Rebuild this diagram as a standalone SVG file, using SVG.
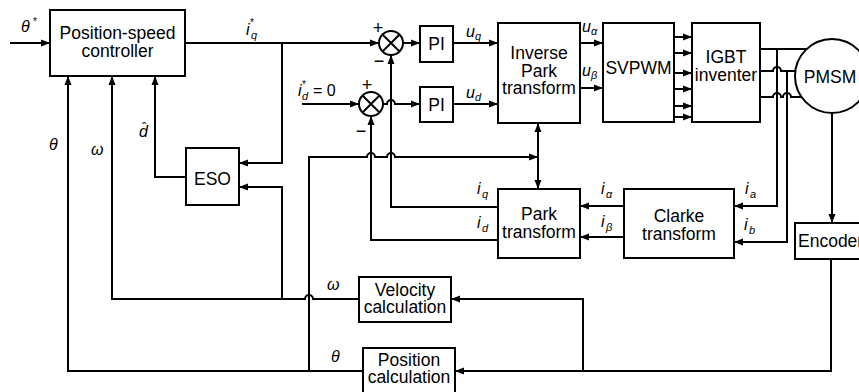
<svg xmlns="http://www.w3.org/2000/svg" width="859" height="392" viewBox="0 0 859 392">
<style>
.box{fill:#fff;stroke:#000;stroke-width:2}
.bt{font-family:"Liberation Sans",Arial,sans-serif;font-size:17.5px;text-anchor:middle;fill:#000}
.lab{font-family:"Liberation Sans",Arial,sans-serif;font-size:16px;font-style:italic;fill:#000}
.sub{font-family:"Liberation Sans",Arial,sans-serif;font-size:11px;font-style:italic;fill:#000}
.sup{font-family:"Liberation Sans",Arial,sans-serif;font-size:10px;fill:#000}
.sg{font-family:"Liberation Sans",Arial,sans-serif;font-size:18px;text-anchor:middle;fill:#000}
.ln{fill:none;stroke:#000;stroke-width:2}
.ar{fill:none;stroke:#000;stroke-width:2;marker-end:url(#ah)}
</style>
<defs>
<marker id="ah" markerUnits="userSpaceOnUse" markerWidth="9" markerHeight="8" refX="9" refY="4" orient="auto">
<path d="M0,0.5 L9,4 L0,7.5 z" fill="#000"/>
</marker>
<marker id="as" markerUnits="userSpaceOnUse" markerWidth="9" markerHeight="8" refX="0" refY="4" orient="auto">
<path d="M9,0.5 L0,4 L9,7.5 z" fill="#000"/>
</marker>
</defs>

<g id="connectors">
<path class="ar" d="M10,43 H50"/>
<path class="ar" d="M185,43 H379"/>
<path class="ar" d="M282,43 V163 H239"/>
<path class="ar" d="M186,177 H155 V76"/>
<path class="ar" d="M363,371 H68 V76"/>
<path class="ar" d="M309,371 V157 H367 A4,4 0 0 1 375,157 H387 A4,4 0 0 1 395,157 H538"/>
<path class="ar" d="M359,299 H313 A4,4 0 0 0 305,299 H112 V76"/>
<path class="ar" d="M282,299 V187 H239"/>
<path class="ar" d="M831,259 V371 H455"/>
<path class="ar" d="M583,371 V299 H451"/>
<path class="ar" d="M832,113 V223"/>
<path class="ar" d="M403,43 H420"/>
<path class="ar" d="M302,104 H359"/>
<path class="ar" d="M383,104 H387 A4,4 0 0 1 395,104 H420"/>
<path class="ar" d="M453,43 H498"/>
<path class="ar" d="M453,104 H498"/>
<path class="ar" d="M580,43 H603"/>
<path class="ar" d="M580,88 H603"/>
<path class="ar" d="M674,37 H692"/>
<path class="ar" d="M674,53 H692"/>
<path class="ar" d="M674,73 H692"/>
<path class="ar" d="M674,89 H692"/>
<path class="ar" d="M674,106 H692"/>
<path class="ar" d="M674,117 H692"/>
<path class="ln" d="M760,49 H807"/>
<path class="ln" d="M760,71 H773 A4,4 0 0 1 781,71 H795"/>
<path class="ln" d="M760,97 H773 A4,4 0 0 1 781,97 H783 A4,4 0 0 1 791,97 H802"/>
<path class="ar" d="M777,49 V206 H734"/>
<path class="ar" d="M787,71 V242 H734"/>
<path class="ar" d="M624,206 H580"/>
<path class="ar" d="M624,237 H580"/>
<path class="ar" d="M498,207 H391 V55"/>
<path class="ar" d="M498,240 H371 V116"/>
<path class="ln" d="M538,123 V189" marker-start="url(#as)" marker-end="url(#ah)"/>
</g>

<g id="controller">
<rect class="box" x="50" y="10" width="135" height="66"/>
<text class="bt" x="117.5" y="39">Position-speed</text>
<text class="bt" x="117.5" y="57">controller</text>
</g>
<g id="eso">
<rect class="box" x="186" y="148" width="53" height="57"/>
<text class="bt" x="212.5" y="185">ESO</text>
</g>
<g id="sum-q">
<circle cx="391" cy="43" r="12" fill="#fff" stroke="#000" stroke-width="2"/>
<path class="ln" d="M382.5,34.5 L399.5,51.5 M399.5,34.5 L382.5,51.5"/>
<text class="sg" x="378" y="34">+</text>
<text class="sg" x="379" y="67">−</text>
</g>
<g id="sum-d">
<circle cx="371" cy="104" r="12" fill="#fff" stroke="#000" stroke-width="2"/>
<path class="ln" d="M362.5,95.5 L379.5,112.5 M379.5,95.5 L362.5,112.5"/>
<text class="sg" x="367" y="91">+</text>
<text class="sg" x="361" y="137">−</text>
</g>
<g id="pi-q">
<rect class="box" x="420" y="26" width="33" height="36"/>
<text class="bt" x="436.5" y="50">PI</text>
</g>
<g id="pi-d">
<rect class="box" x="420" y="87" width="33" height="35"/>
<text class="bt" x="436.5" y="111">PI</text>
</g>
<g id="inv-park">
<rect class="box" x="498" y="23" width="82" height="100"/>
<text class="bt" x="539" y="59">Inverse</text>
<text class="bt" x="539" y="77">Park</text>
<text class="bt" x="539" y="94">transform</text>
</g>
<g id="svpwm">
<rect class="box" x="603" y="23" width="71" height="99"/>
<text class="bt" x="638.5" y="74">SVPWM</text>
</g>
<g id="igbt">
<rect class="box" x="692" y="23" width="68" height="99"/>
<text class="bt" x="726" y="63">IGBT</text>
<text class="bt" x="726" y="81">inventer</text>
</g>
<g id="pmsm">
<circle cx="832" cy="76" r="37" fill="#fff" stroke="#000" stroke-width="2"/>
<text class="bt" x="830" y="83">PMSM</text>
</g>
<g id="park">
<rect class="box" x="498" y="189" width="82" height="69"/>
<text class="bt" x="539" y="220">Park</text>
<text class="bt" x="539" y="238">transform</text>
</g>
<g id="clarke">
<rect class="box" x="624" y="189" width="110" height="69"/>
<text class="bt" x="679" y="222">Clarke</text>
<text class="bt" x="679" y="240">transform</text>
</g>
<g id="encoder">
<rect class="box" x="795" y="223" width="80" height="36"/>
<text class="bt" x="798" y="247" style="text-anchor:start">Encoder</text>
</g>
<g id="velocity">
<rect class="box" x="359" y="277" width="92" height="45"/>
<text class="bt" x="405" y="296">Velocity</text>
<text class="bt" x="405" y="313">calculation</text>
</g>
<g id="position">
<rect class="box" x="363" y="348" width="92" height="46"/>
<text class="bt" x="409" y="366">Position</text>
<text class="bt" x="409" y="383">calculation</text>
</g>

<g id="labels">
<text class="lab" x="21" y="32">θ</text><text class="sup" x="33" y="25">*</text>
<text class="lab" x="246" y="35">i</text><text class="sub" x="251" y="39">q</text><text class="sup" x="250" y="26">*</text>
<text class="lab" x="298" y="96">i</text><text class="sub" x="302" y="100">d</text><text class="sup" x="302" y="88">*</text>
<text class="lab" x="313" y="96" style="font-style:normal">= 0</text>
<text class="lab" x="466" y="37">u</text><text class="sub" x="475" y="40">q</text>
<text class="lab" x="466" y="98">u</text><text class="sub" x="475" y="101">d</text>
<text class="lab" x="582" y="32">u</text><text class="sub" x="591" y="35">α</text>
<text class="lab" x="582" y="76">u</text><text class="sub" x="591" y="79">β</text>
<text class="lab" x="477" y="194">i</text><text class="sub" x="482" y="198">q</text>
<text class="lab" x="477" y="228">i</text><text class="sub" x="482" y="232">d</text>
<text class="lab" x="601" y="194">i</text><text class="sub" x="606" y="198">α</text>
<text class="lab" x="601" y="227">i</text><text class="sub" x="606" y="231">β</text>
<text class="lab" x="745" y="194">i</text><text class="sub" x="750" y="198">a</text>
<text class="lab" x="744" y="230">i</text><text class="sub" x="749" y="234">b</text>
<text class="lab" x="49" y="150">θ</text>
<text class="lab" x="91" y="155">ω</text>
<text class="lab" x="139" y="137">d</text><text class="sup" x="142" y="132" style="font-size:13px">ˆ</text>
<text class="lab" x="327" y="290">ω</text>
<text class="lab" x="331" y="362">θ</text>
</g>
</svg>
